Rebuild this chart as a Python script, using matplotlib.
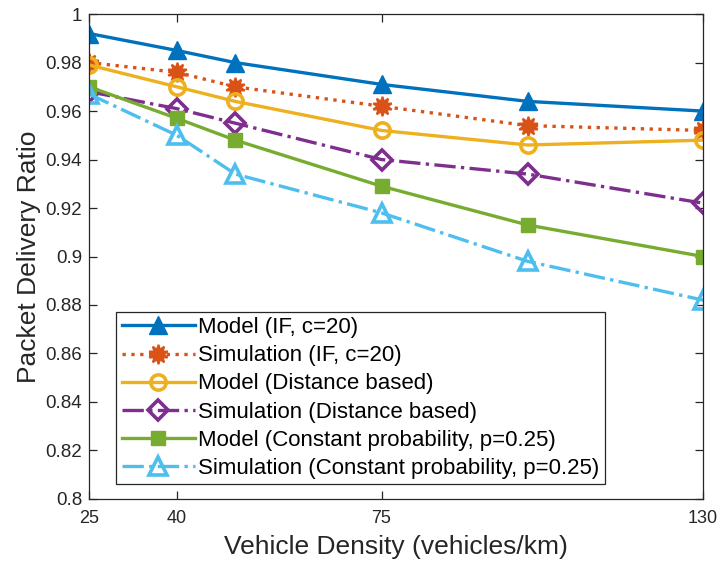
import matplotlib
matplotlib.use("Agg")
import matplotlib.pyplot as plt
from matplotlib.ticker import FuncFormatter

plt.rcParams['font.family'] = ['Liberation Sans', 'DejaVu Sans']

density = [25, 40, 50, 75, 100, 130]

model_if = [0.992, 0.985, 0.980, 0.971, 0.964, 0.960]
sim_if = [0.980, 0.976, 0.970, 0.962, 0.954, 0.952]
model_dist = [0.979, 0.970, 0.964, 0.952, 0.946, 0.948]
sim_dist = [0.968, 0.961, 0.955, 0.940, 0.934, 0.922]
model_const = [0.970, 0.957, 0.948, 0.929, 0.913, 0.900]
sim_const = [0.967, 0.950, 0.934, 0.918, 0.898, 0.882]

labels = [
    "Model (IF, c=20)",
    "Simulation (IF, c=20)",
    "Model (Distance based)",
    "Simulation (Distance based)",
    "Model (Constant probability, p=0.25)",
    "Simulation (Constant probability, p=0.25)",
]

x_ticks = [25, 40, 75, 130]
y_ticks = [0.8, 0.82, 0.84, 0.86, 0.88, 0.9, 0.92, 0.94, 0.96, 0.98, 1.0]

fig = plt.figure(figsize=(7.19, 5.65), dpi=100)
ax = fig.add_axes([0.124, 0.117, 0.854, 0.858])

lw = 2.4
ax.plot(density, model_if, '-', color='#0072BD', lw=lw, marker='^', ms=13,
        mfc='#0072BD', mec='#0072BD', label=labels[0])
ax.plot(density, sim_if, ':', color='#D95319', lw=lw, marker=(10, 1, 0), ms=14,
        mfc='#D95319', mec='#D95319', mew=1.5, label=labels[1])
ax.plot(density, model_dist, '-', color='#EDB120', lw=lw, marker='o', ms=11,
        mfc='none', mec='#EDB120', mew=2.6, label=labels[2])
ax.plot(density, sim_dist, '-.', color='#7E2F8E', lw=lw, marker='D', ms=10,
        mfc='none', mec='#7E2F8E', mew=2.6, label=labels[3])
ax.plot(density, model_const, '-', color='#77AC30', lw=lw, marker='s', ms=10,
        mfc='#77AC30', mec='#77AC30', label=labels[4])
ax.plot(density, sim_const, '-.', color='#4DBEEE', lw=lw, marker='^', ms=13,
        mfc='none', mec='#4DBEEE', mew=2.6, label=labels[5])

ax.set_xlim(25, 130)
ax.set_ylim(0.8, 1.0)
ax.set_xticks(x_ticks)
ax.set_yticks(y_ticks)
ax.yaxis.set_major_formatter(FuncFormatter(lambda v, p: f"{v:g}"))

ax.tick_params(direction='in', top=True, right=True, length=6, width=0.9,
               colors='#262626', labelsize=13.5, pad=5)
ax.tick_params(axis='x', pad=8, labelsize=13)
for s in ax.spines.values():
    s.set_color('#262626')
    s.set_linewidth(0.9)

ax.set_xlabel("Vehicle Density (vehicles/km)", fontsize=19, color='#262626',
              labelpad=6)
ax.set_ylabel("Packet Delivery Ratio", fontsize=19, color='#262626',
              labelpad=3)

leg = ax.legend(loc='lower left', bbox_to_anchor=(0.044, 0.03), fontsize=16,
                handlelength=3.3, handletextpad=0.15, borderaxespad=0.0,
                labelspacing=0.32, borderpad=0.25, fancybox=False,
                edgecolor='#262626', framealpha=1)
leg.get_frame().set_linewidth(0.9)

fig.savefig("out.png", dpi=100)
